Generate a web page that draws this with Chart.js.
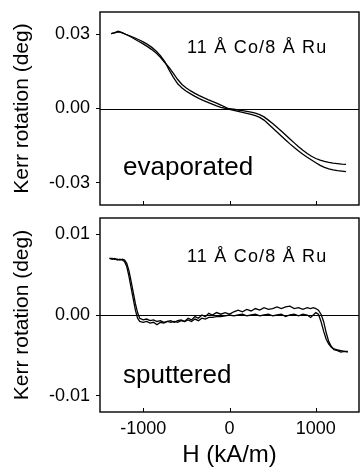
<!DOCTYPE html>
<html>
<head>
<meta charset="utf-8">
<script src="https://cdn.jsdelivr.net/npm/chart.js@4.4.1/dist/chart.umd.min.js"></script>
<style>
  html, body { margin: 0; padding: 0; background: #fff; overflow: hidden; }
  #wrap { position: relative; width: 360px; height: 467px; }
  canvas { position: absolute; left: 0; }
  #topChart { top: 0; }
  #bottomChart { top: 215px; }
</style>
</head>
<body>
<div id="wrap">
  <canvas id="topChart" width="360" height="215"></canvas>
  <canvas id="bottomChart" width="360" height="252"></canvas>
</div>
<script>
'use strict';

// field sweep, kA/m
const hTop = [-1370, -1330, -1290, -1250, -1200, -1150, -1100, -1050, -1000, -950,
  -900, -850, -800, -750, -700, -650, -600, -550, -500, -450,
  -400, -350, -300, -250, -200, -150, -100, -50, 0, 50,
  100, 150, 200, 250, 300, 350, 400, 450, 500, 550,
  600, 650, 700, 750, 800, 850, 900, 950, 1000, 1050,
  1100, 1150, 1200, 1250, 1300, 1350];

// evaporated film, two branches of the loop (deg)
const kerrEvapA = [0.0303, 0.0307, 0.0312, 0.0308, 0.0300, 0.0293, 0.0286, 0.0278, 0.0269, 0.0259,
  0.0247, 0.0232, 0.0214, 0.0190, 0.0156, 0.0126, 0.0100, 0.0083, 0.0070, 0.0059,
  0.0049, 0.0040, 0.0032, 0.0025, 0.0018, 0.0011, 0.0005, 0.0001, -0.0001, -0.0003,
  -0.0006, -0.0009, -0.0012, -0.0015, -0.0019, -0.0025, -0.0034, -0.0047, -0.0061, -0.0076,
  -0.0091, -0.0107, -0.0123, -0.0139, -0.0155, -0.0169, -0.0182, -0.0193, -0.0202, -0.0209,
  -0.0214, -0.0218, -0.0221, -0.0223, -0.0225, -0.0226];
const kerrEvapB = [0.0303, 0.0306, 0.0310, 0.0307, 0.0299, 0.0291, 0.0281, 0.0271, 0.0261, 0.0250,
  0.0238, 0.0224, 0.0207, 0.0186, 0.0166, 0.0142, 0.0117, 0.0097, 0.0083, 0.0071,
  0.0061, 0.0052, 0.0044, 0.0036, 0.0029, 0.0022, 0.0014, 0.0006, -0.0004, -0.0008,
  -0.0012, -0.0016, -0.0020, -0.0024, -0.0029, -0.0036, -0.0047, -0.0063, -0.0079, -0.0095,
  -0.0111, -0.0127, -0.0143, -0.0158, -0.0172, -0.0185, -0.0197, -0.0208, -0.0219, -0.0230,
  -0.0238, -0.0244, -0.0248, -0.0251, -0.0253, -0.0255];

const hBottom = [-1390, -1360, -1330, -1300, -1270, -1240, -1215, -1190, -1165, -1140,
  -1115, -1090, -1065, -1040, -1000, -960, -920, -880, -840, -800,
  -760, -720, -680, -640, -600, -560, -520, -480, -440, -400,
  -360, -320, -280, -240, -200, -150, -100, -50, 0, 50,
  100, 150, 200, 250, 300, 350, 400, 450, 500, 550,
  600, 650, 700, 750, 800, 850, 900, 940, 970, 1000,
  1030, 1060, 1090, 1120, 1150, 1180, 1210, 1250, 1290, 1330, 1370];

// sputtered film, two branches (deg)
const kerrSputA = [0.0070, 0.0069, 0.0070, 0.0068, 0.0069, 0.0068, 0.0066, 0.0060, 0.0048, 0.0034,
  0.0020, 0.0006, -0.0004, -0.0008, -0.0009, -0.0008, -0.0010, -0.0009, -0.0012, -0.0009,
  -0.0010, -0.0008, -0.0009, -0.0008, -0.0009, -0.0007, -0.0008, -0.0006, -0.0008, -0.0005,
  -0.0007, -0.0004, -0.0005, -0.0003, -0.0003, -0.0002, -0.0002, -0.0001, 0.0000, -0.0001,
  0.0000, 0.0001, -0.0001, 0.0000, 0.0001, -0.0001, 0.0000, 0.0001, -0.0001, 0.0000,
  0.0001, -0.0002, 0.0000, 0.0001, -0.0001, 0.0001, 0.0000, -0.0003, 0.0000, 0.0003,
  0.0001, -0.0008, -0.0020, -0.0030, -0.0036, -0.0040, -0.0042, -0.0043, -0.0044, -0.0045, -0.0045];
const kerrSputB = [0.0070, 0.0070, 0.0069, 0.0069, 0.0068, 0.0069, 0.0068, 0.0064, 0.0055, 0.0042,
  0.0028, 0.0014, 0.0003, -0.0004, -0.0006, -0.0005, -0.0007, -0.0006, -0.0008, -0.0007,
  -0.0009, -0.0008, -0.0007, -0.0009, -0.0007, -0.0006, -0.0008, -0.0004, -0.0006, -0.0002,
  -0.0004, 0.0000, -0.0002, 0.0002, 0.0000, 0.0003, 0.0001, 0.0003, 0.0001, 0.0004,
  0.0006, 0.0004, 0.0007, 0.0005, 0.0008, 0.0006, 0.0009, 0.0007, 0.0008, 0.0010,
  0.0008, 0.0010, 0.0011, 0.0008, 0.0009, 0.0007, 0.0009, 0.0008, 0.0009, 0.0008,
  0.0006, 0.0001, -0.0008, -0.0022, -0.0033, -0.0039, -0.0043, -0.0044, -0.0046, -0.0045, -0.0046];

const hTicks = [-1000, 0, 1000];
const evapTicks = [-0.03, 0, 0.03];
const sputTicks = [-0.01, 0, 0.01];

const FONT = '"Liberation Sans", Arial, Helvetica, sans-serif';

function toPoints(xs, ys) {
  return xs.map((h, i) => ({ x: h, y: ys[i] }));
}

function curve(xs, ys) {
  return {
    data: toPoints(xs, ys),
    borderColor: '#000',
    borderWidth: 1.3,
    pointRadius: 0,
    tension: 0,
    fill: false
  };
}

// frame, zero line, inward ticks and the two labels inside each panel
const panelDecor = {
  id: 'panelDecor',
  afterDatasetsDraw(chart, args, opts) {
    const ctx = chart.ctx;
    const a = chart.chartArea;
    const x = chart.scales.x, y = chart.scales.y;
    ctx.save();
    ctx.strokeStyle = '#000';
    ctx.lineWidth = 1;
    const y0 = Math.round(y.getPixelForValue(0)) + 0.5;
    ctx.beginPath();
    ctx.moveTo(a.left, y0);
    ctx.lineTo(a.right, y0);
    x.ticks.forEach(t => {
      const px = Math.round(x.getPixelForValue(t.value)) + 0.5;
      ctx.moveTo(px, a.bottom);
      ctx.lineTo(px, a.bottom - 4);
    });
    ctx.stroke();
    ctx.lineWidth = 1.4;
    ctx.strokeRect(a.left, a.top, a.right - a.left, a.bottom - a.top);

    ctx.fillStyle = '#000';
    ctx.textBaseline = 'alphabetic';
    ctx.textAlign = 'left';
    ctx.font = '18px ' + FONT;
    ctx.letterSpacing = '1.2px';
    ctx.fillText(opts.sample, a.left + 87, a.top + opts.sampleY);
    ctx.letterSpacing = '0px';
    ctx.font = '26px ' + FONT;
    ctx.fillText(opts.method, a.left + 23, a.top + opts.methodY);
    ctx.restore();
  }
};

function makeChart(id, cfg) {
  const showX = cfg.showX;
  return new Chart(document.getElementById(id), {
    type: 'line',
    data: { datasets: [curve(cfg.h, cfg.a), curve(cfg.h, cfg.b)] },
    options: {
      responsive: false,
      devicePixelRatio: 1,
      animation: false,
      layout: { padding: { top: cfg.padTop, right: 1, left: 0, bottom: 0 } },
      plugins: {
        legend: { display: false },
        tooltip: { enabled: false },
        panelDecor: { sample: '11 Å Co/8 Å Ru', method: cfg.method, sampleY: cfg.sampleY, methodY: cfg.methodY }
      },
      scales: {
        x: {
          type: 'linear',
          min: -1500,
          max: 1500,
          afterBuildTicks: s => { s.ticks = hTicks.map(v => ({ value: v })); },
          afterFit: s => { s.height = cfg.xHeight; s.paddingLeft = 0; s.paddingRight = 0; },
          grid: { display: false, drawTicks: false, tickLength: 0 },
          border: { display: false },
          ticks: {
            display: showX,
            padding: 6,
            color: '#000',
            font: { family: FONT, size: 18 },
            callback: v => String(v)
          },
          title: {
            display: showX,
            text: 'H (kA/m)',
            color: '#000',
            font: { family: FONT, size: 24, lineHeight: 1 },
            padding: { top: 0, bottom: 0 }
          }
        },
        y: {
          type: 'linear',
          min: -cfg.yLim,
          max: cfg.yLim,
          afterBuildTicks: s => { s.ticks = cfg.yTicks.map(v => ({ value: v })); },
          afterFit: s => { s.width = 100; s.paddingTop = 0; s.paddingBottom = 0; },
          grid: { display: true, drawOnChartArea: false, drawTicks: true, tickLength: 4, color: '#000', lineWidth: 1 },
          border: { display: false },
          ticks: {
            padding: 6,
            color: '#000',
            font: { family: FONT, size: 18 },
            callback: v => v.toFixed(2)
          },
          title: {
            display: true,
            text: 'Kerr rotation (deg)',
            color: '#000',
            font: { family: FONT, size: 21, lineHeight: 1.2 },
            padding: { top: 10, bottom: 0 }
          }
        }
      }
    },
    plugins: [panelDecor]
  });
}

makeChart('topChart', {
  h: hTop, a: kerrEvapA, b: kerrEvapB,
  yLim: 0.039, yTicks: evapTicks,
  padTop: 12, xHeight: 10, showX: false,
  method: 'evaporated', sampleY: 41, methodY: 163
});

makeChart('bottomChart', {
  h: hBottom, a: kerrSputA, b: kerrSputB,
  yLim: 0.012, yTicks: sputTicks,
  padTop: 3, xHeight: 55, showX: true,
  method: 'sputtered', sampleY: 44, methodY: 165
});
</script>
</body>
</html>
